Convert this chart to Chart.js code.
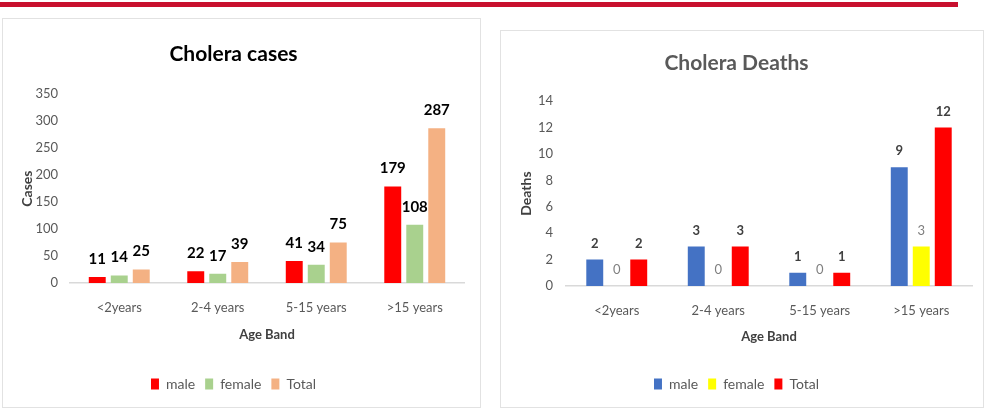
<!DOCTYPE html>
<html>
<head>
<meta charset="utf-8">
<script src="https://cdn.jsdelivr.net/npm/chart.js@4.4.1/dist/chart.umd.min.js"></script>
<style>
  body { margin: 0; background: #fff; width: 986px; height: 411px; position: relative; overflow: hidden; font-family: Lato, sans-serif; }
  .topline { position: absolute; left: 0; top: 2px; width: 958px; height: 5px; background: #c8102e; }
  .panel { position: absolute; border: 1px solid #e2e2e2; background: #fff; }
  #casesBox { left: 2px; top: 18px; width: 477px; height: 388px; }
  #deathsBox { left: 500px; top: 30px; width: 482px; height: 376px; }
</style>
</head>
<body>
<div class="topline"></div>
<div class="panel" id="casesBox"><canvas id="cases" width="477" height="388"></canvas></div>
<div class="panel" id="deathsBox"><canvas id="deaths" width="482" height="376"></canvas></div>

<script>
// categories
const ageBands = ["<2years", "2-4 years", "5-15 years", ">15 years"];

// cholera cases
const casesMale = [11, 22, 41, 179];
const casesFemale = [14, 17, 34, 108];
const casesTotal = [25, 39, 75, 287];
const casesMax = 350;
const casesStep = 50;

// cholera deaths
const deathsMale = [2, 3, 1, 9];
const deathsFemale = [0, 0, 0, 3];
const deathsTotal = [2, 3, 1, 12];
const deathsMax = 14;
const deathsStep = 2;

const FONT = "Lato, sans-serif";

// value labels above bars
const valueLabels = {
  id: "valueLabels",
  afterDatasetsDraw(chart) {
    const ctx = chart.ctx;
    chart.data.datasets.forEach((ds, i) => {
      const meta = chart.getDatasetMeta(i);
      ctx.save();
      ctx.font = ds.labelFont;
      ctx.fillStyle = ds.labelColor;
      ctx.textAlign = "center";
      ctx.textBaseline = "middle";
      meta.data.forEach((bar, j) => {
        ctx.fillText(String(ds.data[j]), bar.x, bar.y - ds.labelOffset);
      });
      ctx.restore();
    });
  }
};

function makeChart(id, opts) {
  return new Chart(document.getElementById(id), {
    type: "bar",
    data: { labels: ageBands, datasets: opts.datasets },
    plugins: [valueLabels],
    options: {
      responsive: false,
      animation: false,
      layout: { padding: { top: 0, right: opts.padRight, bottom: 6, left: 0 } },
      datasets: { bar: { categoryPercentage: opts.catPct, barPercentage: 0.77 } },
      plugins: {
        title: {
          display: true,
          text: opts.title,
          color: opts.titleColor,
          font: { family: FONT, size: 21, weight: "bold" },
          padding: { top: opts.titleTop, bottom: opts.titleBottom }
        },
        legend: {
          position: "bottom",
          labels: {
            boxWidth: 8, boxHeight: 11, padding: 10,
            color: "#595959",
            font: { family: FONT, size: 14 }
          }
        },
        tooltip: { enabled: false }
      },
      scales: {
        x: {
          grid: { display: false, drawTicks: false },
          border: { display: true, color: "#d9d9d9", width: 1.5 },
          ticks: { color: "#595959", font: { family: FONT, size: 13 }, padding: 17 },
          title: {
            display: true, text: "Age Band", color: "#404040",
            font: { family: FONT, size: 13, weight: "bold" },
            padding: { top: 0, bottom: opts.xTitleBottom }
          },
          afterFit(scale) { scale.height = opts.xHeight; }
        },
        y: {
          min: 0, max: opts.yMax,
          grid: { display: false, drawTicks: false },
          border: { display: false },
          ticks: { stepSize: opts.yStep, color: "#595959", font: { family: FONT, size: 13 }, padding: opts.yTickPad },
          title: {
            display: true, text: opts.yTitle, color: "#404040",
            font: { family: FONT, size: 14, weight: "bold" },
            padding: { top: opts.yTitleTop, bottom: 0 }
          },
          afterFit(scale) { scale.width = opts.yWidth; }
        }
      }
    }
  });
}

makeChart("cases", {
  title: "Cholera cases", titleColor: "#000000", titleTop: 23, titleBottom: 27,
  padRight: 16, catPct: 0.67,
  yMax: casesMax, yStep: casesStep, yTitle: "Cases", yTitleTop: 16, yTickPad: 12, yWidth: 67,
  xHeight: 84, xTitleBottom: 24,
  datasets: [
    { label: "male", data: casesMale, backgroundColor: "#ff0000", labelFont: "bold 15px " + FONT, labelColor: "#000000", labelOffset: 18 },
    { label: "female", data: casesFemale, backgroundColor: "#a9d18e", labelFont: "bold 15px " + FONT, labelColor: "#000000", labelOffset: 18 },
    { label: "Total", data: casesTotal, backgroundColor: "#f4b183", labelFont: "bold 15px " + FONT, labelColor: "#000000", labelOffset: 18 }
  ]
});

makeChart("deaths", {
  title: "Cholera Deaths", titleColor: "#595959", titleTop: 20, titleBottom: 25,
  padRight: 11, catPct: 0.65,
  yMax: deathsMax, yStep: deathsStep, yTitle: "Deaths", yTitleTop: 17, yTickPad: 13, yWidth: 65,
  xHeight: 81, xTitleBottom: 22,
  datasets: [
    { label: "male", data: deathsMale, backgroundColor: "#4472c4", labelFont: "bold 13px " + FONT, labelColor: "#404040", labelOffset: 16 },
    { label: "female", data: deathsFemale, backgroundColor: "#ffff00", labelFont: "13px " + FONT, labelColor: "#7f7f7f", labelOffset: 16 },
    { label: "Total", data: deathsTotal, backgroundColor: "#ff0000", labelFont: "bold 13px " + FONT, labelColor: "#404040", labelOffset: 16 }
  ]
});
</script>
</body>
</html>
